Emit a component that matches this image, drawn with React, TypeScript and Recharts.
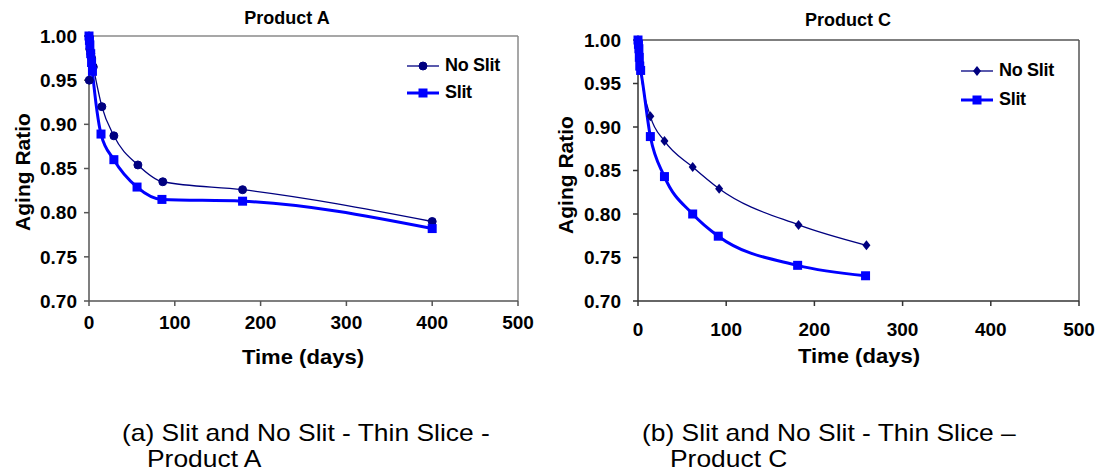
import React from 'react';
import {
  LineChart,
  Line,
  XAxis,
  YAxis,
  ReferenceLine,
  Legend,
} from 'recharts';

// Product A
const daysANoSlit = [0, 0.3, 1, 2, 3, 5, 15, 29, 57, 86, 179, 400];
const ratioANoSlit = [1.0, 0.95, 0.985, 0.98, 0.975, 0.965, 0.92, 0.887, 0.854, 0.835, 0.826, 0.79];
const daysASlit = [0, 0.5, 1, 2, 3, 4, 14, 29, 56, 85, 179, 400];
const ratioASlit = [1.0, 0.995, 0.99, 0.98, 0.97, 0.96, 0.889, 0.86, 0.829, 0.815, 0.813, 0.782];

// Product C
const daysCNoSlit = [0, 1, 2, 3, 14, 30, 62, 92, 182, 259];
const ratioCNoSlit = [1.0, 0.985, 0.975, 0.965, 0.9125, 0.884, 0.854, 0.829, 0.7875, 0.764];
const daysCSlit = [0, 0.5, 1, 1.5, 2, 3, 14, 30, 62, 91, 181, 258];
const ratioCSlit = [1.0, 0.995, 0.99, 0.98, 0.97, 0.965, 0.889, 0.843, 0.8, 0.7745, 0.741, 0.729];

const xTicks = [0, 100, 200, 300, 400, 500];
const yTicks = [0.7, 0.75, 0.8, 0.85, 0.9, 0.95, 1.0];
const seriesNames = ['No Slit', 'Slit'];

const NAVY = '#000080';
const BLUE = '#0000ff';
const FONT = 'Arial, "Liberation Sans", sans-serif';

const zip = (days: number[], ratios: number[]) =>
  days.map((day, i) => ({ day, ratio: ratios[i] }));

type Shape = 'circle' | 'diamond' | 'square';

function marker(shape: Shape, cx: number, cy: number, key?: string) {
  if (shape === 'circle') {
    return <circle key={key} cx={cx} cy={cy} r={4} fill={NAVY} stroke={NAVY} />;
  }
  if (shape === 'diamond') {
    return (
      <path
        key={key}
        d={`M${cx},${cy - 5} L${cx + 4},${cy} L${cx},${cy + 5} L${cx - 4},${cy} Z`}
        fill={NAVY}
      />
    );
  }
  return <rect key={key} x={cx - 4.5} y={cy - 4.5} width={9} height={9} fill={BLUE} />;
}

function LegendBox({ shape, rowGap }: { shape: Shape; rowGap: number }) {
  return (
    <div style={{ fontFamily: FONT, fontWeight: 'bold', fontSize: 18, color: '#000' }}>
      {seriesNames.map((name, i) => (
        <div key={name} style={{ display: 'flex', alignItems: 'center', height: rowGap }}>
          <svg width={34} height={14} style={{ marginRight: 4 }}>
            <line
              x1={0}
              x2={32}
              y1={7}
              y2={7}
              stroke={i === 0 ? NAVY : BLUE}
              strokeWidth={i === 0 ? 1.3 : 3}
            />
            {marker(i === 0 ? shape : 'square', 16, 7)}
          </svg>
          <span style={{ letterSpacing: -0.3 }}>{name}</span>
        </div>
      ))}
    </div>
  );
}

interface PanelProps {
  left: number;
  width: number;
  top: number;
  axisWidth: number;
  rightPad: number;
  yTickMargin: number;
  xTickMargin: number;
  axisColor: string;
  frameColor: string;
  noSlit: { day: number; ratio: number }[];
  slit: { day: number; ratio: number }[];
  noSlitShape: Shape;
  legendLeft: number;
  legendTop: number;
  legendRow: number;
}

function Panel(p: PanelProps) {
  const plotBottom = 301;
  const height = 340;
  const tickStyle = { fill: '#000', fontSize: 19, fontWeight: 'bold', fontFamily: FONT };
  return (
    <div style={{ position: 'absolute', left: p.left, top: 0 }}>
      <LineChart
        width={p.width}
        height={height}
        margin={{ top: p.top, right: p.rightPad, left: 0, bottom: 0 }}
      >
        <XAxis
          type="number"
          dataKey="day"
          domain={[0, 500]}
          ticks={xTicks}
          height={height - plotBottom}
          tick={tickStyle}
          tickSize={5}
          tickMargin={p.xTickMargin}
          stroke={p.axisColor}
          strokeWidth={1.5}
          interval={0}
        />
        <YAxis
          type="number"
          domain={[0.7, 1]}
          ticks={yTicks}
          width={p.axisWidth}
          tick={tickStyle}
          tickSize={5}
          tickMargin={p.yTickMargin}
          tickFormatter={(v: number) => v.toFixed(2)}
          stroke={p.axisColor}
          strokeWidth={1.5}
          interval={0}
        />
        <ReferenceLine y={1} stroke={p.frameColor} strokeWidth={1.5} />
        <ReferenceLine x={500} stroke={p.frameColor} strokeWidth={1.5} />
        <Line
          data={p.noSlit}
          dataKey="ratio"
          name="No Slit"
          type="monotone"
          stroke={NAVY}
          strokeWidth={1.3}
          dot={(d: any) => marker(p.noSlitShape, d.cx, d.cy, `n${d.index}`)}
          activeDot={false}
          isAnimationActive={false}
        />
        <Line
          data={p.slit}
          dataKey="ratio"
          name="Slit"
          type="monotone"
          stroke={BLUE}
          strokeWidth={3}
          dot={(d: any) => marker('square', d.cx, d.cy, `s${d.index}`)}
          activeDot={false}
          isAnimationActive={false}
        />
        {/* middle/center keeps the legend from taking room off the plot */}
        <Legend
          layout="horizontal"
          verticalAlign="middle"
          align="center"
          wrapperStyle={{ left: p.legendLeft, top: p.legendTop, width: 'auto' }}
          content={() => <LegendBox shape={p.noSlitShape} rowGap={p.legendRow} />}
        />
      </LineChart>
    </div>
  );
}

const abs = (x: number, y: number, extra: React.CSSProperties = {}): React.CSSProperties => ({
  position: 'absolute',
  left: x,
  top: y,
  transform: 'translate(-50%, -50%)',
  whiteSpace: 'nowrap',
  fontFamily: FONT,
  color: '#000',
  ...extra,
});

// the captions in the source are a bit wider than plain Arial
const captionStyle = (x: number, y: number): React.CSSProperties => ({
  position: 'absolute',
  left: x,
  top: y,
  fontFamily: FONT,
  fontSize: 24,
  lineHeight: '24px',
  whiteSpace: 'nowrap',
  color: '#000',
  transform: 'scaleX(1.1)',
  transformOrigin: 'left center',
});

export default function App() {
  const bold = { fontWeight: 'bold' as const };
  return (
    <div
      style={{
        position: 'absolute',
        left: 0,
        top: 0,
        width: 1097,
        height: 472,
        background: '#fff',
        overflow: 'hidden',
      }}
    >
      <Panel
        left={0}
        width={540}
        top={36}
        axisWidth={89}
        rightPad={22}
        yTickMargin={7}
        xTickMargin={10}
        axisColor="#555"
        frameColor="#8a8a8a"
        noSlit={zip(daysANoSlit, ratioANoSlit)}
        slit={zip(daysASlit, ratioASlit)}
        noSlitShape="circle"
        legendLeft={407}
        legendTop={52}
        legendRow={27}
      />
      <Panel
        left={540}
        width={557}
        top={40}
        axisWidth={98}
        rightPad={18}
        yTickMargin={12}
        xTickMargin={17}
        axisColor="#333"
        frameColor="#555"
        noSlit={zip(daysCNoSlit, ratioCNoSlit)}
        slit={zip(daysCSlit, ratioCSlit)}
        noSlitShape="diamond"
        legendLeft={421}
        legendTop={56}
        legendRow={29}
      />

      <div style={abs(287, 18, { ...bold, fontSize: 18 })}>Product A</div>
      <div style={abs(848, 20, { ...bold, fontSize: 18 })}>Product C</div>

      <div style={abs(23, 172, { ...bold, fontSize: 21, transform: 'translate(-50%, -50%) rotate(-90deg)' })}>
        Aging Ratio
      </div>
      <div style={abs(566, 175, { ...bold, fontSize: 21, transform: 'translate(-50%, -50%) rotate(-90deg)' })}>
        Aging Ratio
      </div>
      <div style={abs(303, 357, { ...bold, fontSize: 21, transform: 'translate(-50%, -50%) scaleX(1.05)' })}>
        Time (days)
      </div>
      <div style={abs(859, 356, { ...bold, fontSize: 21, transform: 'translate(-50%, -50%) scaleX(1.05)' })}>
        Time (days)
      </div>

      <div style={captionStyle(122, 421)}>(a) Slit and No Slit - Thin Slice -</div>
      <div style={captionStyle(147, 447)}>Product A</div>
      <div style={captionStyle(642, 421)}>(b) Slit and No Slit - Thin Slice –</div>
      <div style={captionStyle(670, 447)}>Product C</div>
    </div>
  );
}
